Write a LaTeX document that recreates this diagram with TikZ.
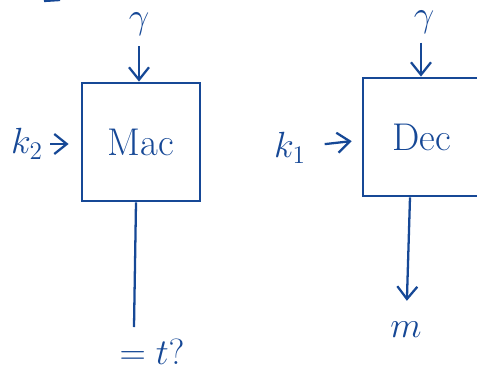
\documentclass[tikz,border=0pt]{standalone}
\usepackage{amsmath,amssymb}
\usetikzlibrary{arrows.meta,positioning}
\definecolor{ink}{RGB}{22,72,150}

\begin{document}
\begin{tikzpicture}[x=0.02cm, y=-0.02cm,
      every node/.style={text=ink, font=\fontsize{22}{26}\selectfont},
      box/.style={draw=ink, line width=1.6pt, minimum size=2.36cm, inner sep=0pt},
      label/.style={inner sep=2pt},
      arrow/.style={draw=ink, line width=1.3pt, -{Straight Barb[length=2.5mm, width=4mm]}},
      wire/.style={draw=ink, line width=1.3pt}
  ]
    \useasboundingbox (0,0) rectangle (477,380);
    \clip (0,0) rectangle (477,380);
    \draw[wire] (44,1) -- (60,0);
    % mac side
    \node[box] (mac) at (141,142) {Mac};
    \node[label] (g1) at (139,24) {$\gamma$};
    \node[label] (k2) at (27,144) {$k_2$};
    \node[label] (chk) at (152,352) {$=t?$};
    \draw[arrow, shorten <=4pt] (g1) -- (g1 |- mac.north);
    \draw[arrow, shorten <=2pt, shorten >=0.24cm] (k2) -- (mac.west |- k2);
    \draw[wire] (mac.south -| 136,0) -- (134,327);
    % dec side
    \node[box] (dec) at (422,137) {Dec};
    \node[label] (g2) at (424,22) {$\gamma$};
    \node[label] (k1) at (290,148) {$k_1$};
    \node[label] (msg) at (406,330) {$m$};
    \draw[arrow, shorten <=3pt] (g2.south -| 421,0) -- (dec.north -| 421,0);
    \draw[arrow, shorten <=0.3cm, shorten >=0.2cm] (k1) -- (dec.west |- 0,140);
    \draw[arrow, shorten >=0.35cm] (dec.south -| 410,0) -- (msg);
\end{tikzpicture}
\end{document}
